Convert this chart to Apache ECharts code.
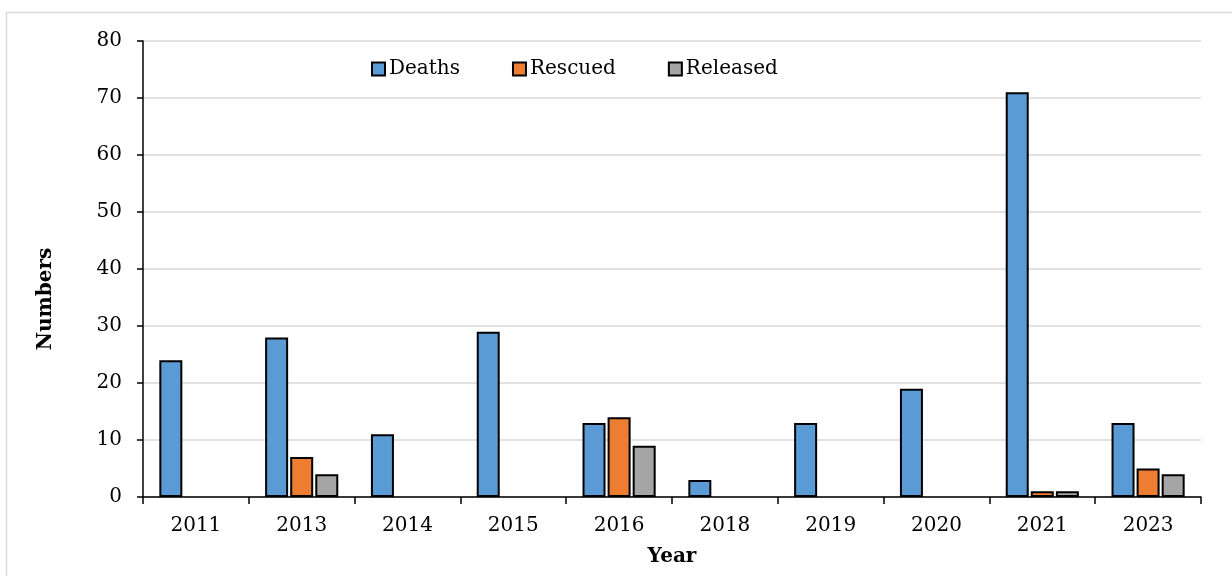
<!DOCTYPE html>
<html lang="en">
<head>
	<meta charset="UTF-8">
	<title>Numbers by year</title>
	<script src="https://cdn.jsdelivr.net/npm/echarts@6/dist/echarts.min.js"></script>
	<style>
		html, body { margin: 0; padding: 0; background: #fff; }
		#main { width: 1232px; height: 576px; }
	</style>
</head>
<body>
	<div id="main"></div>
	<script>
		var years = ['2011', '2013', '2014', '2015', '2016', '2018', '2019', '2020', '2021', '2023'];
		var deaths = [24, 28, 11, 29, 13, 3, 13, 19, 71, 13];
		var rescued = [0, 7, 0, 0, 14, 0, 0, 0, 1, 5];
		var released = [0, 4, 0, 0, 9, 0, 0, 0, 1, 4];

		var font = 'DejaVu Serif';
		// zero values are not drawn in the original
		function noZero(arr) {
			return arr.map(function (v) { return v === 0 ? '-' : v; });
		}
		function bar(name, data, color) {
			return {
				name: name,
				type: 'bar',
				data: noZero(data),
				barWidth: 23,
				barGap: '9%',
				itemStyle: { color: color, borderColor: '#000', borderWidth: 2 }
			};
		}

		var myChart = echarts.init(document.getElementById('main'));
		var option = {
			animation: false,
			textStyle: { fontFamily: font },
			graphic: [{
				type: 'rect',
				shape: { x: 6.5, y: 12.5, width: 1240, height: 600 },
				style: { fill: 'none', stroke: '#d9d9d9', lineWidth: 1.5 }
			}, {
				type: 'text',
				x: 46,
				y: 299,
				rotation: Math.PI / 2,
				style: {
					text: 'Numbers',
					font: 'bold 20px "DejaVu Serif"',
					fill: '#000',
					align: 'center',
					verticalAlign: 'middle'
				}
			}],
			grid: { left: 143, right: 31, top: 41, bottom: 79, outerBoundsMode: 'none' },
			legend: {
				top: 54,
				left: 366,
				itemWidth: 13,
				itemHeight: 13,
				itemGap: 52,
				icon: 'rect',
				textStyle: { fontFamily: font, fontSize: 20, color: '#000', padding: [0, 0, 0, -1] },
				data: ['Deaths', 'Rescued', 'Released']
			},
			xAxis: {
				type: 'category',
				data: years,
				name: 'Year',
				nameLocation: 'middle',
				nameGap: 50,
				nameTextStyle: { fontFamily: font, fontSize: 20, fontWeight: 'bold', color: '#000' },
				axisLine: { lineStyle: { color: '#000', width: 1.5 } },
				axisTick: { show: true, length: 7, lineStyle: { color: '#000', width: 1.5 } },
				axisLabel: { fontFamily: font, fontSize: 20, color: '#000', margin: 19 }
			},
			yAxis: {
				type: 'value',
				min: 0,
				max: 80,
				interval: 10,
				axisLine: { show: true, lineStyle: { color: '#000', width: 1.5 } },
				axisTick: { show: true, length: 6, lineStyle: { color: '#000', width: 1.5 } },
				axisLabel: { fontFamily: font, fontSize: 20, color: '#000', margin: 21 },
				splitLine: { lineStyle: { color: '#d9d9d9', width: 1.5 } }
			},
			series: [
				bar('Deaths', deaths, '#5b9bd5'),
				bar('Rescued', rescued, '#ed7d31'),
				bar('Released', released, '#a5a5a5')
			]
		};
		myChart.setOption(option);
	</script>
</body>
</html>
